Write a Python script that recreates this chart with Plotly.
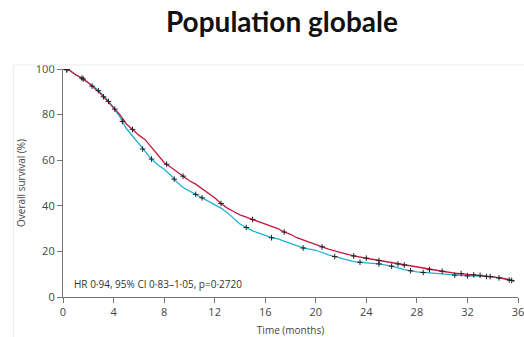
import plotly.graph_objects as go
import numpy as np

# Kaplan-Meier curves (months, overall survival %)
red_t = [0, 0.5, 1, 1.5, 2, 2.5, 3, 3.5, 4, 4.5, 5, 5.5, 6, 6.5, 7, 7.5, 8, 8.5, 9, 9.5,
         10, 10.5, 11, 11.5, 12, 12.5, 13, 13.5, 14, 14.5, 15, 15.5, 16, 16.5, 17, 17.5,
         18, 18.5, 19, 19.5, 20, 21, 22, 23, 24, 25, 26, 27, 28, 29, 30, 31, 32, 33, 34, 35, 35.7]
red_v = [100, 99.5, 97.5, 96, 94, 91.5, 89, 86, 83, 80, 76, 73.5, 71, 69, 65.5, 62, 59, 57, 55, 53,
         51, 49.5, 47.5, 45.5, 43.5, 41, 39, 37.5, 36, 35, 34, 33, 32, 31, 30, 28.5,
         27.5, 26, 25, 24, 23, 21, 19.5, 18, 17, 16, 15, 14, 13, 12, 11.3, 10.5, 10, 9.5, 8.8, 8, 7]

cyan_t = [0, 0.5, 1, 1.5, 2, 2.5, 3, 3.5, 4, 4.5, 5, 5.5, 6, 6.5, 7, 7.5, 8, 8.5, 9, 9.5,
          10, 10.5, 11, 11.5, 12, 12.5, 13, 13.5, 14, 14.5, 15, 15.5, 16, 16.5, 17, 17.5,
          18, 18.5, 19, 19.5, 20, 21, 22, 23, 24, 25, 26, 27, 28, 29, 30, 31, 32, 33, 34, 35, 35.7]
cyan_v = [100, 99.5, 97.5, 96, 94, 92, 89.5, 86.5, 83, 79, 74, 70.5, 67, 63.5, 60.5, 58, 56, 53.5, 50.5, 48,
          46.5, 45, 43.5, 42, 40.5, 39, 37, 34.5, 32, 30.5, 29, 28, 27, 26, 25.5, 24.5,
          23.5, 22.5, 21.5, 21, 20.5, 18.5, 17, 15.5, 15, 14.5, 13.5, 12, 11, 10.5, 10, 9.6, 9.3, 9.2, 8.8, 7.8, 7]

# censoring times
red_cens = [0.3, 1.5, 2.3, 3.2, 4.1, 5.5, 8.2, 9.5, 12.5, 15, 17.5, 20.5, 23, 24, 25, 26.5,
            27, 29, 30, 31.5, 32.5, 33, 33.8, 34.5, 35.5]
cyan_cens = [0.3, 1.6, 2.8, 3.6, 4.7, 6.3, 7.0, 8.8, 10.5, 11, 14.5, 16.5, 19, 21.5, 23.5, 25,
             26, 27.5, 28.5, 31, 32, 33.5, 35.3]

x_ticks = [0, 4, 8, 12, 16, 20, 24, 28, 32, 36]
y_ticks = [0, 20, 40, 60, 80, 100]

RED = "#c41942"
CYAN = "#1fb0d4"


def curve_lookup(ts, vs, q):
    return list(np.interp(q, ts, vs))


fig = go.Figure()
fig.add_trace(go.Scatter(x=cyan_t, y=cyan_v, mode="lines", line=dict(color=CYAN, width=1.3),
                         showlegend=False, hoverinfo="skip"))
fig.add_trace(go.Scatter(x=red_t, y=red_v, mode="lines", line=dict(color=RED, width=1.3),
                         showlegend=False, hoverinfo="skip"))
for ts, vs, cens in [(cyan_t, cyan_v, cyan_cens), (red_t, red_v, red_cens)]:
    fig.add_trace(go.Scatter(x=cens, y=curve_lookup(ts, vs, cens), mode="markers",
                             marker=dict(symbol="cross-thin-open", size=4, color="#222",
                                         line=dict(color="#222", width=1)),
                             showlegend=False, hoverinfo="skip"))

axis_font = dict(family="Open Sans", size=11, color="#444")
fig.update_layout(
    width=524, height=337,
    margin=dict(l=63, r=6, t=69, b=40),
    paper_bgcolor="white", plot_bgcolor="white",
    title=dict(text="<b>Population globale</b>", x=0.538, xanchor="center", y=0.935, yanchor="middle",
               font=dict(family="Lato", size=28, color="#111")),
    xaxis=dict(range=[0, 36], tickvals=x_ticks, showgrid=False, zeroline=False, automargin=False,
               ticklabeloverflow="allow",
               showline=True, linecolor="#777", linewidth=1.2, ticks="outside", ticklen=5,
               tickcolor="#777", tickfont=axis_font,
               title=dict(text="Time (months)", font=dict(family="Open Sans", size=10, color="#444"), standoff=8)),
    yaxis=dict(range=[0, 100], tickvals=y_ticks, showgrid=False, zeroline=False, automargin=False,
               showline=True, linecolor="#777", linewidth=1.2, ticks="outside", ticklen=5,
               tickcolor="#777", tickfont=axis_font,
               title=dict(text="Overall survival (%)", font=dict(family="Open Sans", size=10, color="#444"), standoff=8)),
    annotations=[dict(text="HR 0·94, 95% CI 0·83–1·05, p=0·2720", x=0.02, y=5.5, xref="paper", yref="y",
                      xanchor="left", yanchor="middle", showarrow=False,
                      font=dict(family="Open Sans", size=10, color="#333"))],
    shapes=[dict(type="line", xref="paper", yref="paper", x0=-0.109, x1=1.02, y0=1.018, y1=1.018,
                 line=dict(color="#eeeeee", width=1)),
            dict(type="line", xref="paper", yref="paper", x0=-0.109, x1=-0.109, y0=1.018, y1=-0.18,
                 line=dict(color="#eeeeee", width=1))],
)

fig.write_html("out.html")
